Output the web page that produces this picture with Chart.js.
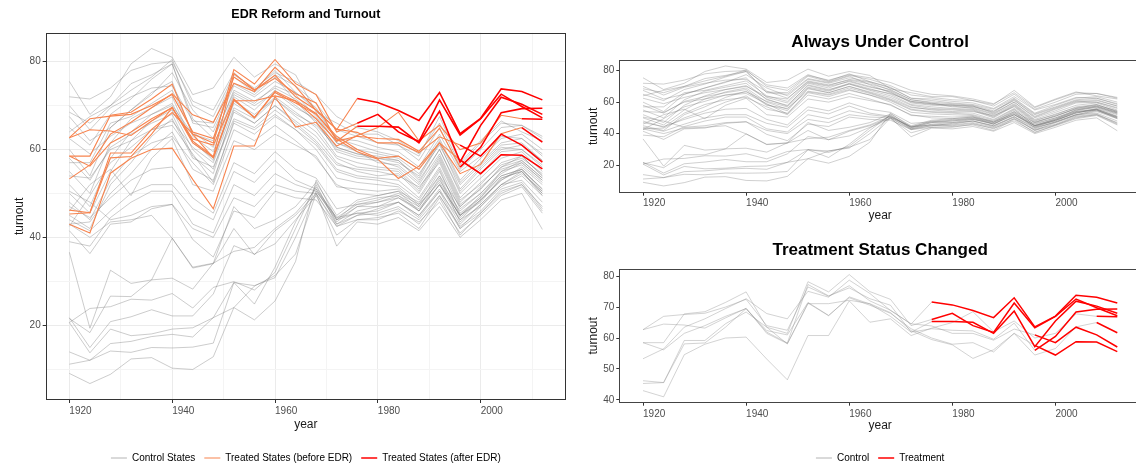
<!DOCTYPE html>
<html>
<head>
<meta charset="utf-8">
<title>EDR Reform and Turnout</title>
<script src="https://cdn.jsdelivr.net/npm/chart.js@4.4.0/dist/chart.umd.min.js"></script>
<style>
  html, body { margin: 0; padding: 0; background: #fff; overflow: hidden; }
  body { width: 1136px; height: 467px; position: relative; }
  canvas { position: absolute; }
  #edrChart { left: 0; top: 0; }
  #controlChart { left: 580px; top: 0; }
  #changedChart { left: 580px; top: 232px; }
</style>
</head>
<body>
<canvas id="edrChart" width="580" height="480"></canvas>
<canvas id="controlChart" width="580" height="232"></canvas>
<canvas id="changedChart" width="580" height="248"></canvas>
<script>
// Turnout by state, presidential election years

var YEARS = [1920, 1924, 1928, 1932, 1936, 1940, 1944, 1948, 1952, 1956, 1960, 1964,
             1968, 1972, 1976, 1980, 1984, 1988, 1992, 1996, 2000, 2004, 2008, 2012];

// states that never adopted EDR
var CONTROL_TURNOUT = [
  [9.0, 6.7, 8.8, 12.3, 12.6, 10.2, 9.9, 12.8, 24.0, 21.2, 25.5, 34.5, 53.0, 44.0, 47.0, 48.0, 49.5, 46.0, 52.0, 44.0, 48.5, 53.0, 56.0, 52.0],
  [11.1, 12.0, 14.1, 13.8, 14.9, 14.8, 15.0, 15.9, 29.7, 29.0, 30.8, 40.0, 50.5, 44.5, 47.5, 48.5, 50.0, 47.5, 52.5, 45.0, 49.5, 54.0, 55.5, 51.0],
  [13.9, 12.0, 15.8, 16.3, 17.4, 17.9, 17.3, 21.7, 24.0, 28.9, 31.3, 36.2, 50.0, 42.5, 45.0, 46.5, 48.0, 44.5, 50.5, 42.0, 47.0, 51.5, 54.0, 49.5],
  [20.6, 13.7, 19.1, 17.6, 18.0, 19.1, 19.4, 21.7, 29.7, 24.8, 33.2, 43.5, 51.5, 44.0, 48.0, 49.0, 49.5, 47.0, 53.0, 46.0, 50.0, 54.5, 57.0, 53.0],
  [21.7, 14.9, 20.8, 21.9, 23.5, 22.1, 22.1, 27.1, 38.1, 36.2, 38.5, 44.0, 49.5, 40.5, 44.0, 44.5, 45.5, 42.0, 49.0, 40.5, 45.5, 50.0, 52.0, 47.0],
  [20.6, 23.8, 24.2, 25.9, 25.7, 27.2, 23.9, 28.6, 29.9, 28.0, 32.0, 42.0, 52.0, 43.0, 46.0, 47.0, 48.0, 45.0, 51.0, 43.0, 47.5, 52.0, 55.0, 50.0],
  [21.5, 18.3, 26.6, 26.5, 30.3, 30.7, 28.2, 34.1, 36.8, 37.7, 42.0, 45.5, 51.0, 43.5, 47.0, 47.0, 49.0, 46.5, 52.0, 45.0, 49.0, 55.0, 57.5, 53.5],
  [36.6, 19.3, 32.5, 29.5, 30.3, 39.8, 33.2, 34.1, 47.0, 42.0, 44.0, 47.0, 52.5, 45.0, 48.5, 49.5, 50.5, 48.0, 54.0, 47.0, 51.0, 56.0, 58.5, 54.0],
  [44.0, 41.5, 46.0, 50.0, 52.0, 52.0, 46.5, 44.0, 55.0, 52.5, 57.5, 53.0, 51.0, 44.5, 45.5, 46.0, 48.0, 45.0, 50.5, 44.0, 47.0, 52.0, 53.0, 48.0],
  [50.5, 48.0, 44.0, 45.0, 47.0, 47.5, 42.0, 40.0, 49.0, 47.0, 52.0, 50.5, 50.0, 43.0, 45.0, 45.5, 47.0, 44.0, 49.5, 42.5, 46.0, 51.0, 52.5, 46.5],
  [41.5, 36.3, 43.0, 43.5, 46.5, 47.5, 39.5, 35.5, 46.0, 44.5, 50.5, 49.0, 48.5, 42.5, 44.0, 44.0, 46.0, 43.5, 48.0, 41.0, 45.0, 49.5, 51.5, 45.5],
  [43.0, 40.0, 43.5, 44.0, 45.0, 39.8, 33.0, 34.0, 42.0, 36.0, 41.5, 45.0, 50.0, 38.0, 43.5, 43.0, 44.5, 41.5, 47.0, 40.0, 44.0, 48.5, 50.0, 41.8],
  [47.0, 44.5, 49.0, 53.0, 55.5, 56.0, 49.0, 45.5, 57.0, 54.5, 59.5, 55.5, 53.5, 46.5, 47.5, 48.0, 49.0, 46.0, 52.0, 45.0, 48.5, 53.5, 55.0, 49.5],
  [39.0, 38.0, 44.5, 48.0, 50.5, 50.5, 43.0, 41.0, 52.0, 49.5, 54.5, 52.0, 50.5, 44.0, 45.5, 45.0, 46.5, 43.0, 49.5, 42.0, 45.5, 50.5, 52.0, 46.0],
  [75.5, 68.0, 72.0, 79.5, 83.0, 81.0, 72.5, 74.0, 81.0, 76.5, 79.5, 77.0, 68.5, 66.0, 63.5, 63.5, 61.0, 58.5, 67.5, 57.0, 62.0, 66.5, 64.0, 62.0],
  [72.0, 71.5, 74.0, 78.0, 79.5, 80.0, 71.0, 69.0, 77.5, 73.5, 78.0, 73.0, 69.0, 62.5, 62.0, 60.5, 59.5, 56.0, 63.5, 55.0, 58.5, 63.0, 62.5, 59.0],
  [68.5, 66.0, 70.0, 75.0, 77.0, 79.5, 66.0, 65.0, 75.0, 72.5, 76.5, 71.0, 66.0, 60.0, 58.5, 58.0, 57.5, 53.5, 61.5, 51.0, 56.0, 60.5, 60.0, 56.5],
  [65.0, 61.0, 68.0, 71.5, 76.0, 79.5, 67.0, 62.5, 73.0, 70.5, 74.5, 72.5, 67.5, 61.5, 59.5, 57.0, 56.5, 52.5, 60.0, 50.5, 55.5, 60.0, 61.0, 57.5],
  [60.0, 54.0, 65.0, 69.0, 73.0, 75.5, 63.0, 59.5, 72.0, 69.0, 73.5, 70.0, 66.5, 59.5, 58.0, 57.5, 56.0, 52.0, 59.0, 49.0, 53.5, 58.0, 59.5, 55.0],
  [55.0, 50.0, 61.5, 67.0, 69.5, 72.0, 61.5, 58.0, 70.5, 67.5, 72.0, 68.5, 65.0, 58.5, 57.0, 56.0, 55.5, 51.0, 58.5, 48.5, 52.0, 57.0, 58.5, 54.0],
  [50.0, 45.5, 55.0, 62.0, 66.5, 69.0, 60.0, 55.5, 68.5, 66.0, 70.0, 66.5, 63.0, 57.0, 55.0, 54.0, 54.5, 50.0, 57.5, 47.5, 51.0, 56.0, 57.5, 53.5],
  [45.0, 42.0, 52.0, 57.0, 63.0, 67.0, 58.0, 56.0, 67.0, 65.0, 69.0, 65.5, 61.5, 55.5, 54.0, 53.5, 53.0, 49.0, 56.0, 46.5, 50.0, 55.0, 56.5, 52.5],
  [43.0, 43.5, 50.0, 54.5, 60.0, 64.0, 55.5, 53.0, 66.0, 63.5, 67.5, 64.5, 60.0, 53.5, 52.5, 52.0, 51.5, 47.5, 55.0, 45.5, 49.0, 54.0, 55.5, 51.0],
  [42.5, 49.5, 57.0, 60.5, 64.5, 66.5, 60.5, 57.0, 69.5, 67.0, 71.5, 68.0, 65.5, 60.5, 59.0, 58.0, 57.0, 54.0, 62.0, 52.5, 57.0, 61.5, 62.5, 58.5],
  [67.5, 62.0, 65.0, 69.0, 72.5, 77.5, 69.0, 64.0, 74.5, 72.0, 75.5, 73.0, 69.5, 62.5, 61.0, 59.5, 58.5, 55.5, 62.5, 53.0, 58.0, 62.5, 63.5, 60.0],
  [57.0, 57.0, 66.0, 67.5, 70.5, 73.5, 64.0, 60.5, 72.5, 70.0, 73.0, 69.5, 67.0, 60.5, 59.0, 58.5, 57.5, 53.0, 60.0, 50.0, 54.5, 59.5, 60.0, 56.0],
  [52.0, 47.0, 58.0, 64.0, 68.0, 70.5, 62.0, 57.5, 71.0, 68.0, 71.5, 67.5, 64.0, 58.0, 56.0, 55.5, 55.0, 50.5, 58.0, 48.0, 52.5, 56.5, 58.0, 54.5],
  [70.0, 64.5, 69.5, 72.0, 74.0, 74.5, 66.5, 66.0, 76.5, 73.0, 77.0, 74.5, 70.5, 64.5, 63.0, 61.5, 61.0, 57.5, 65.0, 55.5, 60.0, 65.0, 65.5, 62.5],
  [48.0, 44.0, 53.0, 58.5, 61.5, 63.0, 57.0, 52.0, 64.5, 62.0, 65.5, 62.0, 58.0, 52.0, 50.0, 49.5, 50.5, 46.0, 53.5, 43.5, 47.5, 52.0, 54.5, 50.5],
  [54.0, 53.5, 60.0, 62.0, 64.5, 65.5, 59.0, 52.5, 66.5, 64.5, 68.0, 64.5, 61.0, 55.0, 53.5, 53.0, 52.0, 48.5, 55.5, 45.0, 48.0, 53.5, 55.0, 50.0],
  [62.5, 59.0, 63.0, 66.0, 68.0, 70.0, 63.5, 62.0, 73.5, 71.0, 74.0, 71.5, 68.0, 61.5, 60.0, 59.0, 58.0, 54.5, 61.0, 52.0, 56.5, 61.0, 61.5, 57.5],
  [46.0, 52.0, 55.5, 49.5, 58.0, 62.5, 52.0, 50.5, 62.0, 60.0, 63.5, 61.0, 58.5, 51.5, 51.0, 50.5, 51.0, 47.0, 54.0, 44.5, 48.5, 53.0, 55.5, 50.5],
  [64.0, 67.5, 70.0, 73.5, 76.5, 80.5, 70.0, 67.5, 77.0, 74.0, 77.5, 75.5, 72.5, 67.5, 65.0, 64.0, 62.0, 59.0, 66.0, 56.5, 61.5, 66.0, 65.5, 63.0],
  [58.0, 53.0, 60.5, 63.5, 66.0, 68.0, 58.5, 54.5, 69.0, 66.0, 70.0, 66.0, 62.0, 56.5, 55.5, 55.0, 54.0, 51.5, 57.0, 47.0, 51.5, 55.5, 57.0, 53.0]
];

// states that adopted EDR, and the election year it took effect
var TREATED_TURNOUT = [
  [62.7, 67.0, 67.6, 68.0, 70.0, 72.5, 64.0, 62.5, 76.5, 73.5, 76.9, 72.0, 69.0, 64.5, 71.6, 70.7, 68.9, 66.6, 73.0, 63.6, 67.1, 73.8, 73.2, 71.3],
  [58.5, 58.5, 67.8, 68.5, 71.5, 74.9, 63.5, 61.5, 78.2, 74.9, 80.5, 75.0, 72.5, 64.0, 66.0, 68.0, 64.0, 61.8, 71.3, 63.3, 67.0, 72.6, 69.8, 67.2],
  [62.7, 64.5, 64.2, 63.2, 66.5, 69.6, 61.5, 58.2, 71.3, 67.2, 73.3, 71.0, 67.0, 61.9, 65.3, 65.3, 65.1, 61.5, 68.7, 57.2, 65.5, 71.9, 70.3, 68.0],
  [46.2, 45.6, 58.1, 58.4, 63.5, 69.5, 61.9, 58.4, 77.3, 73.6, 76.2, 72.7, 70.6, 61.9, 63.0, 62.5, 62.3, 59.6, 64.8, 56.0, 60.5, 68.4, 69.3, 69.4],
  [53.3, 56.5, 63.5, 66.2, 69.5, 72.7, 67.9, 66.2, 75.1, 73.2, 78.7, 74.4, 68.9, 64.6, 63.9, 61.5, 61.5, 59.3, 62.9, 61.0, 58.5, 63.5, 61.0, 57.1],
  [45.3, 45.6, 59.2, 59.2, 64.6, 68.4, 63.5, 58.1, 71.1, 71.1, 72.2, 71.1, 68.2, 62.4, 59.5, 57.8, 53.4, 56.2, 61.5, 57.6, 54.5, 58.8, 58.7, 55.6],
  [43.0, 41.0, 54.6, 58.0, 60.0, 60.3, 53.2, 46.5, 60.8, 60.8, 72.0, 65.1, 66.2, 60.8, 63.2, 65.0, 68.5, 62.0, 65.5, 60.0, 61.5, 67.8, 67.0, 66.9],
  [58.5, 56.2, 61.5, 64.0, 67.0, 69.5, 62.4, 61.0, 71.5, 67.3, 73.0, 70.6, 68.0, 63.0, 60.0, 58.0, 58.5, 55.5, 61.5, 54.5, 56.6, 63.6, 65.0, 61.7]
];
var TREATED_START = [1976, 1976, 1976, 1996, 1996, 1996, 2008, 2008];

var X_TICKS_LEFT = [1920, 1930, 1940, 1950, 1960, 1970, 1980, 1990, 2000, 2010];
var X_TICKS_RIGHT = [1920, 1940, 1960, 1980, 2000];
var Y_TICKS_LEFT = [10, 20, 30, 40, 50, 60, 70, 80];
var Y_TICKS_TOP = [20, 40, 60, 80];
var Y_TICKS_BOTTOM = [40, 50, 60, 70, 80];

var LEGEND_LEFT = ['Control States', 'Treated States (before EDR)', 'Treated States (after EDR)'];
var LEGEND_RIGHT = ['Control', 'Treatment'];

var GREY_LEFT = 'rgba(120,120,120,0.38)';
var GREY_TOP = 'rgba(110,110,110,0.32)';
var GREY_BOTTOM = 'rgba(150,150,150,0.42)';
var ORANGE = '#F7844F';
var RED = '#FF0000';

Chart.defaults.font.family = "'Liberation Sans', Arial, sans-serif";
Chart.defaults.animation = false;

function points(values, from, to) {
  var out = [];
  YEARS.forEach(function (yr, i) {
    if (yr >= from && yr <= to) out.push({ x: yr, y: values[i] });
  });
  return out;
}

function lineSet(data, color, width, order) {
  return {
    data: data, borderColor: color, borderWidth: width, order: order,
    pointRadius: 0, pointHoverRadius: 0, tension: 0, fill: false
  };
}

// ggplot style panel border
var panelBox = {
  id: 'panelBox',
  afterDatasetsDraw: function (chart, args, opts) {
    var a = chart.chartArea, ctx = chart.ctx;
    ctx.save();
    ctx.strokeStyle = opts.color || '#333';
    ctx.lineWidth = 1;
    ctx.strokeRect(Math.round(a.left) + 0.5, Math.round(a.top) + 0.5,
      Math.round(a.right - a.left) - 1, Math.round(a.bottom - a.top) - 1);
    ctx.restore();
  }
};

function xAxis(ticks, every, gridOn, size, tickPad, titlePad) {
  return {
    type: 'linear', min: 1915.4, max: 2016.6,
    afterBuildTicks: function (axis) { axis.ticks = ticks.map(function (v) { return { value: v }; }); },
    afterFit: function (axis) { axis.height = size; },
    ticks: {
      align: 'start', autoSkip: false, maxRotation: 0, minRotation: 0, padding: tickPad,
      color: '#4d4d4d', font: { size: 10 },
      callback: function (v) { return v % every === 0 ? String(v) : ''; }
    },
    grid: {
      drawOnChartArea: gridOn, tickLength: 3,
      color: function (c) { return c.tick && c.tick.value % every === 0 ? '#ebebeb' : '#f4f4f4'; },
      tickColor: function (c) { return c.tick && c.tick.value % every === 0 ? '#333' : 'rgba(0,0,0,0)'; }
    },
    border: { display: false },
    title: { display: true, text: 'year', color: '#1a1a1a', font: { size: 12 }, padding: { top: 0, bottom: titlePad } }
  };
}

function yAxis(ticks, every, min, max, gridOn, size, titlePad) {
  return {
    type: 'linear', min: min, max: max,
    afterBuildTicks: function (axis) { axis.ticks = ticks.map(function (v) { return { value: v }; }); },
    afterFit: function (axis) { axis.width = size; },
    ticks: {
      padding: 2, color: '#4d4d4d', font: { size: 10 },
      callback: function (v) { return v % every === 0 ? String(v) : ''; }
    },
    grid: {
      drawOnChartArea: gridOn, tickLength: 3,
      color: function (c) { return c.tick && c.tick.value % every === 0 ? '#ebebeb' : '#f4f4f4'; },
      tickColor: function (c) { return c.tick && c.tick.value % every === 0 ? '#333' : 'rgba(0,0,0,0)'; }
    },
    border: { display: false },
    title: { display: true, text: 'turnout', color: '#1a1a1a', font: { size: 12 }, padding: { top: titlePad, bottom: 0 } }
  };
}

function legendItem(text, color, width) {
  return { text: text, strokeStyle: color, fillStyle: color, lineWidth: width, pointStyle: 'line', hidden: false };
}

function legendOpts(items) {
  return {
    position: 'bottom', fullSize: false,
    labels: {
      usePointStyle: true, pointStyleWidth: 16, boxHeight: 10, padding: 9,
      color: '#1a1a1a', font: { size: 10 },
      generateLabels: function () { return items; }
    }
  };
}

function titleOpts(text, size, top, bottom) {
  return {
    display: true, text: text, fullSize: false, color: '#000',
    font: { size: size, weight: 'bold' }, padding: { top: top, bottom: bottom }
  };
}

// Left: all states, treated coloured before/after EDR
var leftSets = [];
CONTROL_TURNOUT.forEach(function (v) {
  leftSets.push(lineSet(points(v, 1920, 2012), GREY_LEFT, 1, 3));
});
TREATED_TURNOUT.forEach(function (v, k) {
  leftSets.push(lineSet(points(v, 1920, TREATED_START[k]), ORANGE, 1.1, 2));
  leftSets.push(lineSet(points(v, TREATED_START[k], 2012), RED, 1.6, 1));
});

new Chart(document.getElementById('edrChart').getContext('2d'), {
  type: 'line',
  data: { datasets: leftSets },
  options: {
    responsive: false, devicePixelRatio: 1,
    layout: { padding: { left: 0, right: 14, top: 0, bottom: 7 } },
    plugins: {
      title: titleOpts('EDR Reform and Turnout', 12.5, 7.5, 10.2),
      legend: legendOpts([
        legendItem(LEGEND_LEFT[0], 'rgba(150,150,150,0.7)', 1),
        legendItem(LEGEND_LEFT[1], ORANGE, 1.1),
        legendItem(LEGEND_LEFT[2], RED, 1.6)
      ]),
      tooltip: { enabled: false },
      panelBox: { color: '#333' }
    },
    scales: {
      x: xAxis(X_TICKS_LEFT, 20, true, 44, 2.5, 11.8),
      y: yAxis(Y_TICKS_LEFT, 20, 2.95, 86.6, true, 45.7, 12.8)
    }
  },
  plugins: [panelBox]
});

// Top right: never treated states
var topSets = CONTROL_TURNOUT.map(function (v) {
  return lineSet(points(v, 1920, 2012), GREY_TOP, 1, 1);
});

new Chart(document.getElementById('controlChart').getContext('2d'), {
  type: 'line',
  data: { datasets: topSets },
  options: {
    responsive: false, devicePixelRatio: 1,
    layout: { padding: { left: 0, right: 19, top: 0, bottom: 0 } },
    plugins: {
      title: titleOpts('Always Under Control', 17, 31.8, 7.8),
      legend: { display: false },
      tooltip: { enabled: false },
      panelBox: { color: '#444' }
    },
    scales: {
      x: xAxis(X_TICKS_RIGHT, 20, false, 39.3, 2, 8.8),
      y: yAxis(Y_TICKS_TOP, 20, 2.4, 86.8, false, 39.3, 6.8)
    }
  },
  plugins: [panelBox]
});

// Bottom right: states whose treatment status changed
var bottomSets = [];
TREATED_TURNOUT.forEach(function (v, k) {
  bottomSets.push(lineSet(points(v, 1920, TREATED_START[k]), GREY_BOTTOM, 1, 2));
  bottomSets.push(lineSet(points(v, TREATED_START[k], 2012), RED, 1.5, 1));
});

new Chart(document.getElementById('changedChart').getContext('2d'), {
  type: 'line',
  data: { datasets: bottomSets },
  options: {
    responsive: false, devicePixelRatio: 1,
    layout: { padding: { left: 0, right: 19, top: 0, bottom: 7 } },
    plugins: {
      title: titleOpts('Treatment Status Changed', 17, 7.8, 8.8),
      legend: legendOpts([
        legendItem(LEGEND_RIGHT[0], 'rgba(150,150,150,0.7)', 1),
        legendItem(LEGEND_RIGHT[1], RED, 1.5)
      ]),
      tooltip: { enabled: false },
      panelBox: { color: '#444' }
    },
    scales: {
      x: xAxis(X_TICKS_RIGHT, 20, false, 41.3, 2.3, 10.8),
      y: yAxis(Y_TICKS_BOTTOM, 10, 39.1, 82.3, false, 39.3, 6.8)
    }
  },
  plugins: [panelBox]
});
</script>
</body>
</html>
